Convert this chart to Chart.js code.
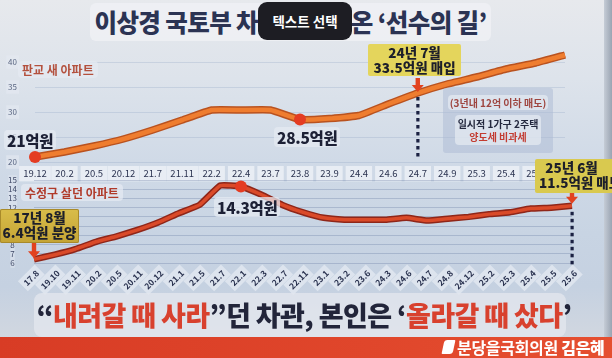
<!DOCTYPE html>
<html><head><meta charset="utf-8">
<script src="https://cdn.jsdelivr.net/npm/chart.js@4"></script>
<style>
html,body{margin:0;padding:0;}
body{width:612px;height:358px;overflow:hidden;position:relative;font-family:"Noto Sans CJK KR","Noto Sans",sans-serif;
background:linear-gradient(180deg,#e7e9ed 0%,#dde3eb 22%,#d0dae7 45%,#c8d4e3 65%,#c5d1e1 80%,#cfd6e0 92%,#d6dbe2 100%);}
.abs{position:absolute;}
canvas{position:absolute;}
.title{left:90px;top:3px;width:401px;height:38px;background:rgba(238,240,244,0.9);border-radius:6px;
 font-weight:900;font-size:24.5px;letter-spacing:-0.6px;color:#2b3353;text-align:center;line-height:38px;white-space:nowrap;}
.tip{left:258px;top:2px;width:94px;height:38px;background:#1d1d23;border-radius:9px;color:#fff;font-size:13.5px;
 font-weight:700;text-align:center;line-height:38px;}
.pill{background:rgba(228,233,241,0.75);border-radius:4px;white-space:nowrap;}
.lbl{font-weight:700;font-size:12px;color:#b3503d;padding:0 4px;line-height:17px;}
.val{font-weight:900;font-size:15.5px;color:#1c2035;padding:0 3px;line-height:20px;letter-spacing:-0.3px;}
.ybox{background:#e4d55c;color:#1d1f2a;font-weight:900;font-size:13.5px;line-height:15px;text-align:center;white-space:nowrap;border-radius:2px;}
.info{left:443px;top:88px;width:110px;height:65px;background:rgba(172,186,212,0.5);border-radius:3px;text-align:center;white-space:nowrap;}
.cap{left:34px;top:293px;width:532px;height:44px;background:rgba(226,230,237,0.8);border-radius:8px;}
.captxt{left:0;top:293px;width:608px;height:44px;text-align:center;font-weight:900;font-size:27px;line-height:44px;letter-spacing:-0.6px;color:#22253a;white-space:nowrap;}
.red{color:#d8412e;}
.band{left:0;top:337px;width:612px;height:21px;background:linear-gradient(90deg,#d83c25,#e0462b 60%,#e54f30);}
</style></head>
<body>
<div class="abs" style="left:604px;top:0;width:8px;height:337px;background:linear-gradient(90deg,#c5ccd6,#9aa4b2);"></div>
<div class="abs title">이상경 국토부 차관이 걸어온 ‘선수의 길’</div>
<div class="abs tip">텍스트 선택</div>

<canvas id="c1" width="612" height="150" style="left:0;top:40px;width:612px;height:150px"></canvas>
<canvas id="c2" width="612" height="140" style="left:0;top:168px;width:612px;height:140px"></canvas>

<div class="abs pill lbl" style="left:18px;top:61px;">판교 새 아파트</div>
<div class="abs pill val" style="left:4px;top:130px;">21억원</div>
<div class="abs pill val" style="left:274px;top:127px;">28.5억원</div>
<div class="abs ybox" style="left:368px;top:44px;width:93px;height:31px;padding-top:1px;">24년 7월<br>33.5억원 매입</div>
<div class="abs info">
  <div class="pill" style="margin:7px 5px 0;font-size:10px;color:#9e4540;line-height:15px;font-weight:700;">(3년내 12억 이하 매도)</div>
  <div class="pill" style="margin:5px 12px 0;font-size:10px;line-height:13px;font-weight:700;padding:2px 0;">
    <span style="color:#23283e">일시적 1가구 2주택</span><br><span style="color:#c33b30">양도세 비과세</span></div>
</div>

<div class="abs pill lbl" style="left:21px;top:184px;color:#b03a2a;">수정구 살던 아파트</div>
<div class="abs ybox" style="left:0;top:209px;width:79px;height:33px;padding-top:1px;background:linear-gradient(180deg,#d9bd4a,#c4a435);box-shadow:0 0 0 1px #a88a2a inset;">17년 8월<br>6.4억원 분양</div>
<div class="abs pill val" style="left:214px;top:197px;">14.3억원</div>
<div class="abs ybox" style="left:535px;top:159px;width:88px;height:33px;padding-top:1px;background:#d9c94f;text-align:left;padding-left:4px;">&nbsp;&nbsp;25년 6월<br>11.5억원 매도</div>

<div class="abs cap"></div>
<div class="abs captxt">“<span class="red">내려갈 때 사라</span>”던 차관, 본인은 ‘<span class="red">올라갈 때 샀다</span>’</div>
<div class="abs band"></div>
<div class="abs" style="left:443px;top:340px;width:11px;height:14px;background:#fff;border-radius:3px 1px 3px 1px;transform:skewX(-12deg);"></div>
<div class="abs" style="left:457px;top:337px;height:21px;line-height:21px;color:#fff;font-size:16px;font-weight:700;white-space:nowrap;letter-spacing:-0.3px;">분당을국회의원 <b style="font-weight:900">김은혜</b></div>

<script>
// ---- data ----
const topCats = ['19.12','20.2','20.5','20.12','21.7','21.11','22.2','22.4','23.7','23.8','23.9','24.4','24.6','24.7','24.9','25.3','25.4','25.5','25.6'];
const topValues = [21, 22, 23.2, 24.6, 26.4, 28.4, 30.4, 30.4, 30.4, 28.5, 28.7, 29.3, 31.6, 33.8, 35.6, 37.0, 38.6, 39.8, 41.4];
const topTicks = [20, 25, 30, 35, 40];
const topDots = [0, 9];
const topBuyIdx = 13;

const botCats = ['17.8','19.10','19.11','20.2','20.5','20.11','20.12','21.1','21.5','21.7','22.1','22.3','22.7','22.11','23.1','23.2','23.6','24.3','24.6','24.7','24.8','24.12','25.2','25.3','25.4','25.5','25.6'];
const botValues = [6.4, 6.9, 7.5, 8.3, 8.9, 9.6, 10.4, 11.4, 12.3, 14.4, 14.3, 13.4, 12.3, 11.5, 10.9, 10.7, 10.7, 10.7, 10.9, 10.6, 10.8, 11.0, 11.3, 11.5, 11.9, 12.0, 12.2];
const botTicks = [6, 7, 8, 9, 10, 11, 12, 13, 14, 15];
const botDots = [10];
const botBuyIdx = 0;
const botSellIdx = 26;

const FONT = '"Noto Sans CJK KR","Noto Sans",sans-serif';

function radiusArr(n, idxs){ return Array.from({length:n}, (_, i) => idxs.includes(i) ? 6 : 0); }

function dotted(ctx, x, y1, y2){
  ctx.save(); ctx.fillStyle = '#1b2142';
  for (let y = y1; y < y2 - 2; y += 7) ctx.fillRect(x - 1.5, y, 3.2, 3.5);
  ctx.restore();
}
function arrow(ctx, x, yTop, yTip){
  ctx.save(); ctx.fillStyle = '#e2421f';
  const hw = 6, hh = 7;
  ctx.fillRect(x - 2.2, yTop, 4.4, yTip - hh - yTop + 1);
  ctx.beginPath(); ctx.moveTo(x - hw, yTip - hh); ctx.lineTo(x + hw, yTip - hh); ctx.lineTo(x, yTip); ctx.closePath(); ctx.fill();
  ctx.restore();
}

const annTop = {
  id: 'annTop',
  afterDatasetsDraw(chart){
    const {ctx, scales:{x, y}, chartArea} = chart;
    const px = x.getPixelForValue(topBuyIdx), py = y.getPixelForValue(topValues[topBuyIdx]);
    dotted(ctx, px, py + 4, chartArea.bottom);
    arrow(ctx, px, py - 15, py - 1);
  }
};
const annBot = {
  id: 'annBot',
  afterDatasetsDraw(chart){
    const {ctx, scales:{x, y}, chartArea} = chart;
    let px = x.getPixelForValue(botBuyIdx), py = y.getPixelForValue(botValues[botBuyIdx]);
    arrow(ctx, px, py - 18, py - 1);
    px = x.getPixelForValue(botSellIdx); py = y.getPixelForValue(botValues[botSellIdx]);
    arrow(ctx, px, py - 14, py - 2);
    dotted(ctx, px, py + 6, chartArea.bottom);
  }
};

Chart.defaults.font.family = FONT;
Chart.defaults.animation = false;

new Chart(document.getElementById('c1'), {
  type: 'line',
  data: {
    labels: topCats,
    datasets: [
      { data: topValues, borderColor: '#ef7d2f', borderWidth: 4.5, tension: 0.1,
        pointRadius: radiusArr(topCats.length, topDots), pointBackgroundColor: '#e43c22', pointBorderWidth: 0, clip: false },
      { data: topValues, borderColor: '#b9521f', borderWidth: 7.5, tension: 0.1, pointRadius: 0, clip: false }
    ]
  },
  options: {
    responsive: false, animation: false,
    layout: { autoPadding: false, padding: { left: 0, right: 47, top: 12, bottom: 3 } },
    plugins: { legend: { display: false }, tooltip: { enabled: false } },
    scales: {
      x: {
        grid: { display: false, drawTicks: false }, border: { display: false },
        afterFit: s => { s.height = 25; },
        ticks: { autoSkip: false, maxRotation: 0, minRotation: 0, padding: 6, color: '#2b3350',
          font: { size: 9.5, family: FONT },
          showLabelBackdrop: true, backdropColor: 'rgba(236,240,246,0.85)', backdropPadding: { left: 4, right: 4, top: 2, bottom: 2 } }
      },
      y: {
        min: 20, max: 42,
        afterFit: s => { s.width = 35; s.paddingTop = 0; s.paddingBottom = 0; },
        afterBuildTicks: s => { s.ticks = topTicks.map(v => ({ value: v })); },
        grid: { color: 'rgba(140,160,195,0.28)', drawTicks: false }, border: { display: false },
        ticks: { autoSkip: false, crossAlign: 'center', padding: 18, color: '#5a6682', font: { size: 8, family: FONT },
          showLabelBackdrop: true, backdropColor: 'rgba(228,234,242,0.6)', backdropPadding: 2 }
      }
    }
  },
  plugins: [annTop]
});

new Chart(document.getElementById('c2'), {
  type: 'line',
  data: {
    labels: botCats,
    datasets: [
      { data: botValues, borderColor: '#da4a29', borderWidth: 3.5, tension: 0.1,
        pointRadius: radiusArr(botCats.length, botDots), pointBackgroundColor: '#e43c22', pointBorderWidth: 0, clip: false },
      { data: botValues, borderColor: '#8f2619', borderWidth: 6.5, tension: 0.1, pointRadius: 0, clip: false }
    ]
  },
  options: {
    responsive: false, animation: false,
    layout: { autoPadding: false, padding: { left: 0, right: 40, top: 12, bottom: 0 } },
    plugins: { legend: { display: false }, tooltip: { enabled: false } },
    scales: {
      x: {
        grid: { display: false, drawTicks: false }, border: { display: false },
        afterFit: s => { s.height = 45; },
        ticks: { autoSkip: false, maxRotation: 45, minRotation: 45, padding: 5, color: '#2b3350',
          font: { size: 8.5, weight: '600', family: FONT },
          showLabelBackdrop: true, backdropColor: 'rgba(226,232,241,0.8)', backdropPadding: { left: 3, right: 3, top: 2, bottom: 2 } }
      },
      y: {
        min: 6, max: 15,
        afterFit: s => { s.width = 34; s.paddingTop = 0; s.paddingBottom = 0; },
        afterBuildTicks: s => { s.ticks = botTicks.map(v => ({ value: v })); },
        grid: { color: 'rgba(110,130,165,0.35)', drawTicks: false }, border: { display: false },
        ticks: { autoSkip: false, crossAlign: 'center', padding: 17, color: '#3e4866', font: { size: 8, family: FONT },
          showLabelBackdrop: true, backdropColor: 'rgba(222,229,239,0.6)', backdropPadding: 0 }
      }
    }
  },
  plugins: [annBot]
});
</script>
</body></html>
